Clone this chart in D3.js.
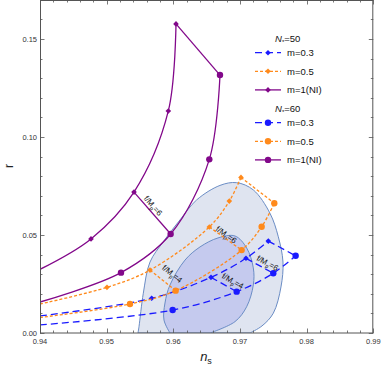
<!DOCTYPE html>
<html>
<head>
<meta charset="utf-8">
<script src="https://cdn.jsdelivr.net/npm/d3@7"></script>
<style>
  body { margin: 0; background: #fff; }
  svg { display: block; font-family: "Liberation Sans", Arial, sans-serif; }
</style>
</head>
<body>
<div id="chart"></div>
<script>
// ---- data: [n_s, r] ----
const xTicks = [0.94, 0.95, 0.96, 0.97, 0.98, 0.99];
const yTicks = [0.00, 0.05, 0.10, 0.15];

// Planck-like confidence contours (visible boundary, closed along r = 0)
const outerContour = [[0.9547,0],[0.95485,0.0032],[0.9555,0.0203],[0.9565,0.0362],[0.9585,0.0466],
  [0.961,0.0577],[0.9635,0.0679],[0.967,0.0753],[0.9695,0.0767],[0.972,0.0730],[0.9745,0.0611],
  [0.97575,0.0491],[0.97645,0.0362],[0.97615,0.0235],[0.975,0.0101],[0.9733,0.0036],[0.9715,0]];
const innerContour = [[0.9595,0],[0.9586,0.0066],[0.95875,0.0153],[0.9595,0.0245],[0.96175,0.0372],
  [0.964,0.0439],[0.9667,0.0485],[0.96925,0.0495],[0.971,0.0434],[0.972,0.0332],[0.972,0.0245],
  [0.971,0.0134],[0.96925,0.0058],[0.9655,0]];

// first point of each curve is where it enters the frame (no marker)
const purple50 = [[0.94,0.0325],[0.94765,0.0480],[0.9541,0.0719],[0.95925,0.1133],[0.9604,0.1577]];
const purple60 = [[0.94,0.0158],[0.95215,0.0308],[0.9596,0.0505],[0.9654,0.0886],[0.967,0.1316]];
const orange50 = [[0.94,0.0148],[0.95005,0.0233],[0.9565,0.0321],[0.9654,0.0541],[0.9684,0.0673],[0.97015,0.0794]];
const orange60 = [[0.94,0.0079],[0.9535,0.0148],[0.96035,0.0216],[0.97025,0.0423],[0.97325,0.0542],[0.97515,0.0662]];
const blue50 = [[0.94,0.0087],[0.95675,0.0177],[0.96565,0.0284],[0.9709,0.0381],[0.97425,0.0469]];
const blue60 = [[0.94,0.0041],[0.9599,0.0117],[0.9695,0.0211],[0.975,0.0305],[0.97835,0.0394]];

// links between the N=50 and N=60 curves: [index, label]
const blueLinks = [[2, '4'], [3, '6'], [4, null]];
const orangeLinks = [[2, '4'], [3, '6'], [5, null]];
const purpleLinks = [[2, '6'], [4, null]];

const mLabels = ['m=0.3', 'm=0.5', 'm=1(NI)'];
const nLabels = ['50', '60'];

// ---- setup ----
const W = 382, H = 369;
const padL = 40, padR = 373.3, padT = 0, padB = 333;

const x = d3.scaleLinear().domain([0.94, 0.99]).range([padL, padR]);
const y = d3.scaleLinear().domain([0, 0.17]).range([padB, padB - 0.17 * 1960]);

const svg = d3.select('#chart').append('svg')
  .attr('width', W)
  .attr('height', H);

svg.append('clipPath').attr('id', 'plot-clip')
  .append('rect')
  .attr('x', padL).attr('y', padT)
  .attr('width', padR - padL).attr('height', padB - padT);

const plot = svg.append('g').attr('clip-path', 'url(#plot-clip)');

// contours
const contourLine = d3.line()
  .x(d => x(d[0])).y(d => y(d[1]))
  .curve(d3.curveCatmullRom.alpha(0.5));

plot.append('path')
  .attr('d', contourLine(outerContour) + 'Z')
  .attr('fill', '#dfe4f0')
  .attr('stroke', '#6a8cc4')
  .attr('stroke-width', 1);

plot.append('path')
  .attr('d', contourLine(innerContour) + 'Z')
  .attr('fill', '#c5caee')
  .attr('stroke', '#6a8cc4')
  .attr('stroke-width', 1);

// series
const series = [
  { color: '#1a1aff', dash: '7,4', n50: blue50, n60: blue60, links: blueLinks },
  { color: '#ff8a1c', dash: '3,2', n50: orange50, n60: orange60, links: orangeLinks },
  { color: '#82088a', dash: null, n50: purple50, n60: purple60, links: purpleLinks }
];

const curve = d3.line()
  .x(d => x(d[0])).y(d => y(d[1]))
  .curve(d3.curveCatmullRom.alpha(0.5));

function diamond(cx, cy, s) {
  return `M${cx},${cy - s}L${cx + s},${cy}L${cx},${cy + s}L${cx - s},${cy}Z`;
}

// label placement along links (fraction t, offset normal to the link in px)
const labelPlace = {
  '0-0': [0.71, 7.5], '0-1': [0.68, 6.2],
  '1-0': [0.6, 11], '1-1': [0.46, 3.5],
  '2-0': [0.41, 5.5]
};

const labelLayer = svg.append('g');

series.forEach((s, si) => {
  [s.n50, s.n60].forEach(pts => {
    plot.append('path')
      .attr('d', curve(pts))
      .attr('fill', 'none')
      .attr('stroke', s.color)
      .attr('stroke-width', 1.3)
      .attr('stroke-dasharray', s.dash);
  });

  s.links.forEach((lk, li) => {
    const a = s.n50[lk[0]], b = s.n60[lk[0]];
    plot.append('line')
      .attr('x1', x(a[0])).attr('y1', y(a[1]))
      .attr('x2', x(b[0])).attr('y2', y(b[1]))
      .attr('stroke', s.color)
      .attr('stroke-width', 1.3)
      .attr('stroke-dasharray', s.dash);

    if (lk[1]) {
      const ax = x(a[0]), ay = y(a[1]), bx = x(b[0]), by = y(b[1]);
      const len = Math.hypot(bx - ax, by - ay);
      const ux = (bx - ax) / len, uy = (by - ay) / len;
      const [t, n] = labelPlace[si + '-' + li];
      const cx = ax + (bx - ax) * t + uy * n;
      const cy = ay + (by - ay) * t - ux * n;
      const ang = Math.atan2(by - ay, bx - ax) * 180 / Math.PI;
      const txt = labelLayer.append('text')
        .attr('transform', `translate(${cx},${cy}) rotate(${ang})`)
        .attr('text-anchor', 'middle')
        .attr('dy', '0.35em')
        .attr('font-size', 8)
        .attr('fill', '#111');
      txt.append('tspan').text('f/M');
      txt.append('tspan').attr('font-size', 5.5).attr('dy', 2).text('p');
      txt.append('tspan').attr('dy', -2).text('=' + lk[1]);
    }
  });

  s.n50.slice(1).forEach(p => {
    plot.append('path')
      .attr('d', diamond(x(p[0]), y(p[1]), 2.8))
      .attr('fill', s.color);
  });
  s.n60.slice(1).forEach(p => {
    plot.append('circle')
      .attr('cx', x(p[0])).attr('cy', y(p[1]))
      .attr('r', 3.2)
      .attr('fill', s.color);
  });
});

// frame and ticks
const frameColor = '#555';
svg.append('rect')
  .attr('x', padL + 0.5).attr('y', 0.5)
  .attr('width', padR - padL - 1).attr('height', padB - 0.5)
  .attr('fill', 'none')
  .attr('stroke', frameColor)
  .attr('stroke-width', 1);

const ticksG = svg.append('g').attr('stroke', frameColor).attr('stroke-width', 0.8);
d3.range(0, 26).forEach(i => {
  const v = 0.94 + i * 0.002;
  const major = i % 5 === 0;
  const L = major ? 4.5 : 2.5;
  const px = Math.round(x(v)) + 0.5;
  ticksG.append('line').attr('x1', px).attr('x2', px).attr('y1', padB).attr('y2', padB - L);
  ticksG.append('line').attr('x1', px).attr('x2', px).attr('y1', 0).attr('y2', L);
});
d3.range(0, 18).forEach(i => {
  const v = i * 0.01;
  const major = i % 5 === 0;
  const L = major ? 4.5 : 2.5;
  const py = Math.round(y(v)) + 0.5;
  ticksG.append('line').attr('y1', py).attr('y2', py).attr('x1', padL).attr('x2', padL + L);
  ticksG.append('line').attr('y1', py).attr('y2', py).attr('x1', padR).attr('x2', padR - L);
});

svg.append('g').selectAll('text')
  .data(xTicks).enter().append('text')
  .attr('x', d => x(d))
  .attr('y', 343.5)
  .attr('text-anchor', 'middle')
  .attr('font-size', 7.5)
  .attr('fill', '#333')
  .text(d => d.toFixed(2));

svg.append('g').selectAll('text')
  .data(yTicks).enter().append('text')
  .attr('x', 37)
  .attr('y', d => y(d))
  .attr('dy', '0.35em')
  .attr('text-anchor', 'end')
  .attr('font-size', 7.5)
  .attr('fill', '#333')
  .text(d => d.toFixed(2));

// axis titles
const xt = svg.append('text')
  .attr('x', 206).attr('y', 361)
  .attr('text-anchor', 'middle')
  .attr('font-size', 13)
  .attr('fill', '#222');
xt.append('tspan').attr('font-style', 'italic').text('n');
xt.append('tspan').attr('font-size', 9).attr('dy', 3).text('s');

svg.append('text')
  .attr('transform', 'translate(13,166) rotate(-90)')
  .attr('text-anchor', 'middle')
  .attr('font-size', 12)
  .attr('fill', '#222')
  .text('r');

// legend
const legend = svg.append('g');
nLabels.forEach((nl, gi) => {
  const y0 = 42 + gi * 70;
  const t = legend.append('text')
    .attr('x', 275).attr('y', y0)
    .attr('font-size', 9.5)
    .attr('fill', '#111');
  t.append('tspan').attr('font-style', 'italic').text('N');
  t.append('tspan').attr('font-size', 6).attr('dy', 2).text('*');
  t.append('tspan').attr('dy', -2).text('=' + nl);

  series.forEach((s, si) => {
    const yy = y0 + 10.7 + si * 18.6;
    legend.append('line')
      .attr('x1', 255).attr('x2', 281)
      .attr('y1', yy).attr('y2', yy)
      .attr('stroke', s.color)
      .attr('stroke-width', 1.3)
      .attr('stroke-dasharray', s.dash);
    if (gi === 0) {
      legend.append('path').attr('d', diamond(268, yy, 2.8)).attr('fill', s.color);
    } else {
      legend.append('circle').attr('cx', 268).attr('cy', yy).attr('r', 3.2).attr('fill', s.color);
    }
    legend.append('text')
      .attr('x', 287).attr('y', yy)
      .attr('dy', '0.35em')
      .attr('font-size', 9.5)
      .attr('fill', '#111')
      .text(mLabels[si]);
  });
});
</script>
</body>
</html>
